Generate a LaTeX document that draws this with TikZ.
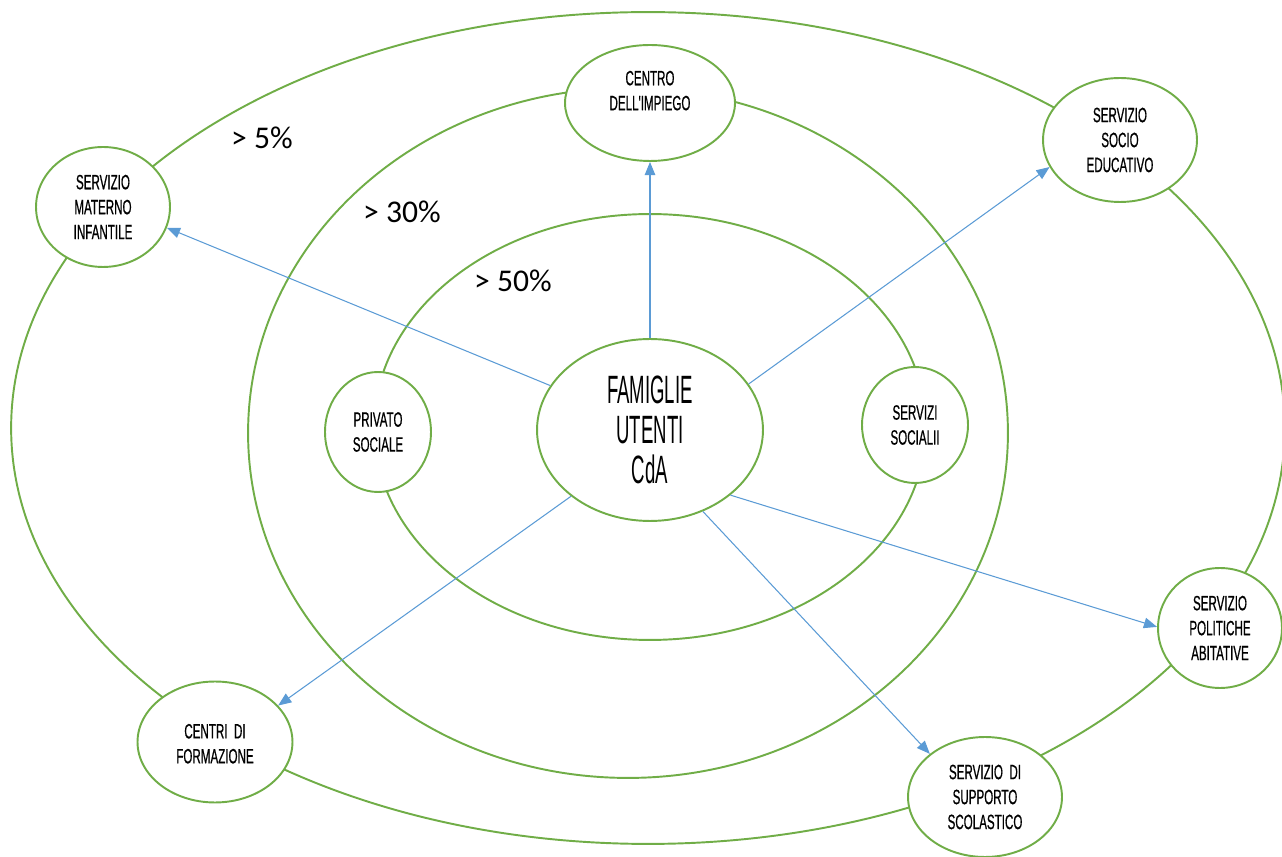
\documentclass[tikz,border=0pt]{standalone}
\usepackage{fontspec}
\usepackage{tikz}
\usetikzlibrary{shapes.geometric,arrows.meta}
\setmainfont{Carlito}
\newfontfamily\agency[FakeStretch=0.56,FakeBold=0.6]{Liberation Sans}
\newfontfamily\agencybig[FakeStretch=0.47]{Liberation Sans}
\definecolor{ringgreen}{RGB}{112,173,71}
\definecolor{linkblue}{RGB}{91,155,213}
\tikzset{
  service/.style={ellipse, draw=ringgreen, fill=white, line width=1.1pt,
                  inner sep=0pt, align=center,
                  font=\agency\fontsize{11.8}{14.2}\selectfont},
  hub/.style={service, font=\agencybig\fontsize{22.5}{22.8}\selectfont},
  ring/.style={draw=ringgreen, line width=1.1pt},
  link/.style={-{Triangle[length=7.5pt,width=6pt]}, draw=linkblue, line width=0.6pt},
  share/.style={font=\fontsize{18}{21}\selectfont}
}

\begin{document}
\begin{tikzpicture}[x=0.02cm, y=-0.02cm]
\useasboundingbox (0,0) rectangle (1282,857);
\clip (0,0) rectangle (1282,857);
% rings
\draw[ring] (648,428) ellipse [x radius=12.74cm, y radius=8.32cm];
\draw[ring] (628,433) ellipse [x radius=7.6cm, y radius=6.9cm];
\draw[ring] (650,427) ellipse [x radius=5.52cm, y radius=4.26cm];
\node[share] (p5)  at (262,138) {> 5\%};
\node[share] (p30) at (402,212) {> 30\%};
\node[share] (p50) at (513,281) {> 50\%};
% services
\node[hub, minimum width=4.52cm, minimum height=3.64cm] (fam) at (650,430) {FAMIGLIE\\UTENTI\\CdA};
\node[service, minimum width=3.4cm, minimum height=2.32cm] (cen) at (650,103) {CENTRO\\DELL'IMPIEGO\\\rule{0pt}{0pt}};
\node[service, minimum width=3.08cm, minimum height=2.48cm] (soc) at (1120,140) {SERVIZIO\\SOCIO\\EDUCATIVO};
\node[service, minimum width=2.68cm, minimum height=2.4cm] (mat) at (103,207) {SERVIZIO\\MATERNO\\INFANTILE};
\node[service, minimum width=2.12cm, minimum height=2.4cm] (pri) at (378,432) {PRIVATO\\SOCIALE};
\node[service, minimum width=2.12cm, minimum height=2.32cm] (ssoc) at (915,425) {SERVIZI\\SOCIALII};
\node[service, minimum width=2.48cm, minimum height=2.4cm] (pol) at (1220,628) {SERVIZIO\\POLITICHE\\ABITATIVE};
\node[service, minimum width=3.1cm, minimum height=2.42cm] (cfor) at (215,742) {\rule{0pt}{0pt}\\[-4pt]CENTRI~~DI\\FORMAZIONE};
\node[service, minimum width=3.08cm, minimum height=2.4cm] (sco) at (985,797) {SERVIZIO~~DI\\SUPPORTO\\SCOLASTICO};
% links
\draw[link] (fam) -- (cen);
\draw[link] (fam.25) -- (soc.201);
\draw[link] (fam.156) -- (mat.342);
\draw[link] (fam.220) -- (cfor.30);
\draw[link] (fam.303) -- (sco.142);
\draw[link] (fam.321) -- (pol.179);
\end{tikzpicture}
\end{document}
